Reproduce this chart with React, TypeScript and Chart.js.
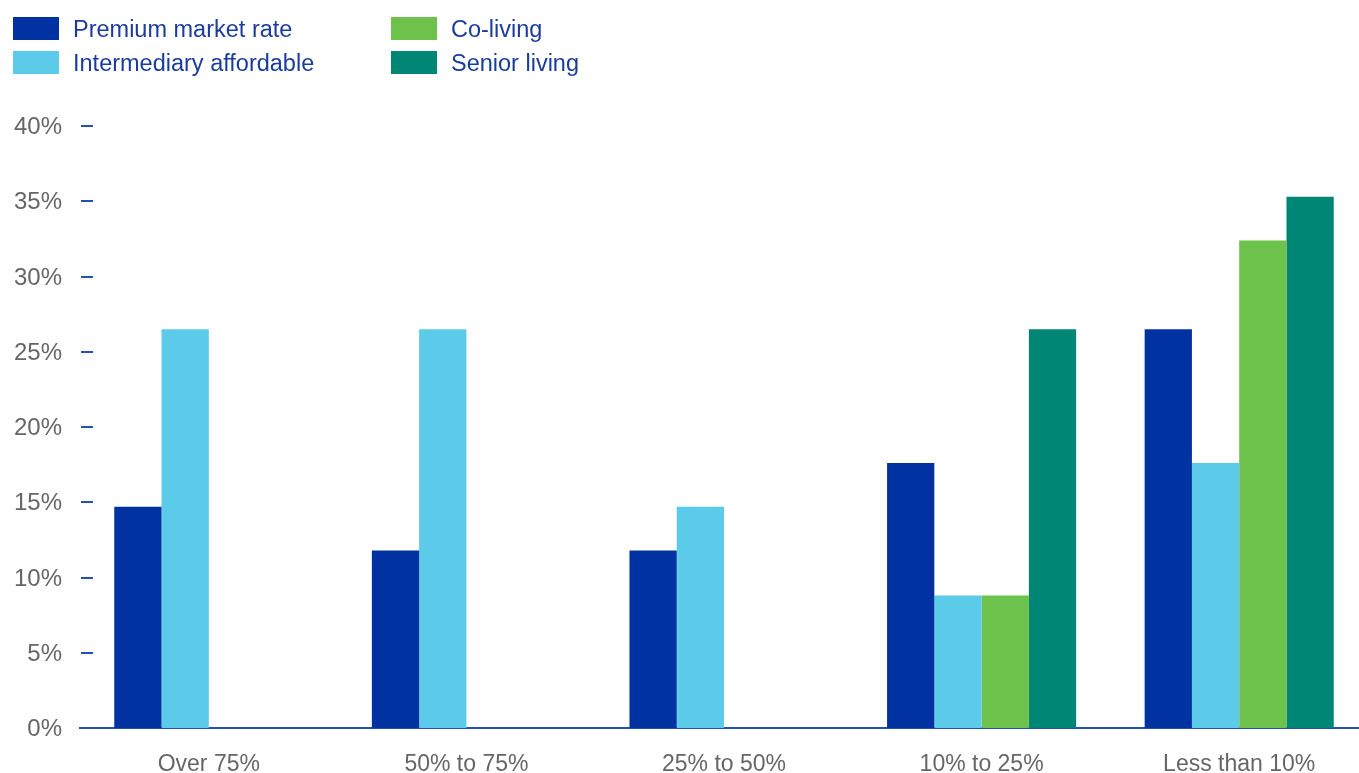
import React, { useEffect, useRef } from "react";
import { Chart, registerables } from "chart.js";

Chart.register(...registerables);

const categories = ["Over 75%", "50% to 75%", "25% to 50%", "10% to 25%", "Less than 10%"];
const seriesNames = ["Premium market rate", "Intermediary affordable", "Co-living", "Senior living"];
const premiumMarketRate = [14.7, 11.8, 11.8, 17.6, 26.5];
const intermediaryAffordable = [26.5, 26.5, 14.7, 8.8, 17.6];
const coLiving = [null, null, null, 8.8, 32.4];
const seniorLiving = [null, null, null, 26.5, 35.3];
const yTickValues = [0, 5, 10, 15, 20, 25, 30, 35, 40];

const seriesColors = ["#0033A1", "#5BCBE9", "#6CC24A", "#008674"];
const FONT = '"Liberation Sans", Arial, sans-serif';
const AXIS_BLUE = "#2450B3";
const TEXT_BLUE = "#1A3C9C";
const TICK_GRAY = "#666666";

const tickDashPlugin = {
  id: "tickDash",
  afterDraw(chart: any) {
    const y = chart.scales.y;
    const ctx = chart.ctx;
    const left = chart.chartArea.left;
    ctx.save();
    ctx.strokeStyle = AXIS_BLUE;
    ctx.lineWidth = 2;
    yTickValues.forEach((v) => {
      const py = Math.round(y.getPixelForValue(v));
      ctx.beginPath();
      ctx.moveTo(left + 1, py);
      ctx.lineTo(left + 13, py);
      ctx.stroke();
    });
    ctx.restore();
  },
};

export default function App() {
  const ref = useRef<HTMLCanvasElement | null>(null);

  useEffect(() => {
    if (!ref.current) return;
    const seriesData = [premiumMarketRate, intermediaryAffordable, coLiving, seniorLiving];
    const chart = new Chart(ref.current, {
      type: "bar",
      data: {
        labels: categories,
        datasets: seriesNames.map((name, i) => ({
          label: name,
          data: seriesData[i] as any,
          backgroundColor: seriesColors[i],
          borderWidth: 0,
          barPercentage: 1,
          categoryPercentage: 0.734,
        })),
      },
      options: {
        responsive: false,
        animation: false,
        layout: { padding: { top: 126, right: 4, left: 0, bottom: 0 } },
        plugins: { legend: { display: false }, tooltip: { enabled: false } },
        scales: {
          x: {
            grid: { display: true, drawOnChartArea: false, drawTicks: false },
            border: { display: true, color: AXIS_BLUE, width: 2 },
            ticks: { font: { family: FONT, size: 23 }, color: TICK_GRAY, padding: 23, maxRotation: 0 },
            afterFit: (s: any) => {
              s.height = 45;
            },
          },
          y: {
            min: 0,
            max: 40,
            grid: { display: false, drawTicks: false },
            border: { display: false },
            ticks: {
              stepSize: 5,
              font: { family: FONT, size: 24 },
              color: TICK_GRAY,
              padding: 18,
              labelOffset: 1.5,
              callback: (v: any) => v + "%",
            },
            afterFit: (s: any) => {
              s.width = 80;
            },
          },
        },
      },
      plugins: [tickDashPlugin],
    });
    return () => chart.destroy();
  }, []);

  const legendItems = [
    { i: 0, left: 13, top: 17 },
    { i: 1, left: 13, top: 51 },
    { i: 2, left: 391, top: 17 },
    { i: 3, left: 391, top: 51 },
  ];

  return (
    <div
      style={{
        position: "fixed",
        left: 0,
        top: 0,
        width: 1359,
        height: 773,
        overflow: "hidden",
        background: "#fff",
      }}
    >
      <canvas ref={ref} width={1372} height={773} style={{ display: "block" }} />
      {legendItems.map(({ i, left, top }) => (
        <div
          key={i}
          style={{
            position: "absolute",
            left,
            top,
            height: 23,
            display: "flex",
            alignItems: "center",
            fontFamily: FONT,
            fontSize: 23.5,
            lineHeight: "23px",
            color: TEXT_BLUE,
            whiteSpace: "nowrap",
          }}
        >
          <span style={{ display: "inline-block", width: 46, height: 23, background: seriesColors[i], marginRight: 14 }} />
          <span style={{ position: "relative", top: 1 }}>{seriesNames[i]}</span>
        </div>
      ))}
    </div>
  );
}
